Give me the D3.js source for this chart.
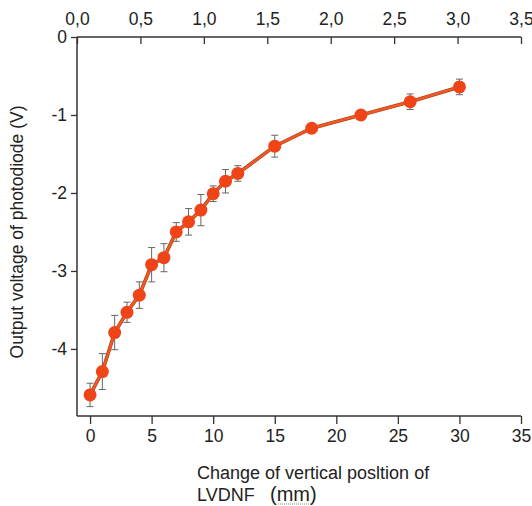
<!DOCTYPE html>
<html>
<head>
<meta charset="utf-8">
<title>LVDNF photodiode</title>
<script src="https://cdnjs.cloudflare.com/ajax/libs/d3/7.8.5/d3.min.js"></script>
<style>
  body { margin: 0; background: #fff; }
  svg text { font-family: "Liberation Sans", Arial, sans-serif; fill: #222; }
</style>
</head>
<body>
<div id="chart"></div>
<script>
// position change (mm) and photodiode output (V)
var shift = [0, 1, 2, 3, 4, 5, 6, 7, 8, 9, 10, 11, 12, 15, 18, 22, 26, 30];
var volts = [-4.59, -4.29, -3.79, -3.53, -3.31, -2.92, -2.83, -2.50, -2.37, -2.22,
             -2.01, -1.85, -1.75, -1.40, -1.17, -1.00, -0.83, -0.64];
var errs  = [0.15, 0.23, 0.22, 0.13, 0.17, 0.22, 0.18, 0.12, 0.17, 0.20,
             0.10, 0.15, 0.10, 0.14, 0.06, 0.05, 0.10, 0.10];

var bottomTicks = [0, 5, 10, 15, 20, 25, 30, 35];
var topTicks = [0, 0.5, 1.0, 1.5, 2.0, 2.5, 3.0, 3.5];
var leftTicks = [0, -1, -2, -3, -4];

var w = 532, h = 506;
var padL = 77, padR = 521, padT = 37, padB = 416;

var svg = d3.select("#chart").append("svg")
  .attr("width", w).attr("height", h);

var x = d3.scaleLinear().domain([-1.06, 35]).range([padL, padR]);
var xTop = d3.scaleLinear().domain([0, 3.5]).range([padL, padR]);
var y = d3.scaleLinear().domain([-4.86, 0]).range([padB, padT]);

var comma = function(d) { return d.toFixed(1).replace(".", ","); };
var plain = function(d) { return String(d); };  // keeps the ascii hyphen

// bottom axis
var gx = svg.append("g").attr("transform", "translate(0," + padB + ")");
gx.call(d3.axisBottom(x).tickValues(d3.range(0, 35.1, 2.5)).tickSize(4).tickFormat(""));
gx.call(d3.axisBottom(x).tickValues(bottomTicks).tickSize(8).tickPadding(6).tickFormat(plain));

// top axis, ticks point inward
var gt = svg.append("g").attr("transform", "translate(0," + padT + ")");
gt.call(d3.axisBottom(xTop).tickValues(d3.range(0, 3.51, 0.25)).tickSize(4).tickFormat(""));
gt.call(d3.axisBottom(xTop).tickValues(topTicks).tickSize(7).tickFormat(""));
gt.selectAll(".tick").filter(function(d) { return topTicks.indexOf(d) >= 0; })
  .append("text").attr("y", -12).attr("text-anchor", "middle")
  .text(function(d) { return comma(d); });

// left axis
var gy = svg.append("g").attr("transform", "translate(" + padL + ",0)");
gy.call(d3.axisLeft(y).tickValues(d3.range(-4.5, 0.01, 0.5)).tickSize(3).tickFormat(""));
gy.call(d3.axisLeft(y).tickValues(leftTicks).tickSize(6).tickPadding(4).tickFormat(plain));

svg.selectAll(".domain").attr("stroke", "#333").attr("stroke-width", 1.5);
svg.selectAll(".tick line").attr("stroke", "#333").attr("stroke-width", 1.3);
svg.selectAll(".tick text").style("font-size", "17.5px").attr("fill", "#222");
gx.selectAll(".domain").attr("d", "M" + padL + ",0H" + padR);
gt.selectAll(".domain").attr("d", "M" + padL + ",0H" + padR);
gy.selectAll(".domain").attr("d", "M0," + padT + "V" + padB);

var pts = shift.map(function(s, i) { return { s: s, v: volts[i], e: errs[i] }; });

// error bars
var eb = svg.append("g").attr("stroke", "#666").attr("stroke-width", 1);
pts.forEach(function(p) {
  var cx = x(p.s);
  eb.append("line").attr("x1", cx).attr("x2", cx).attr("y1", y(p.v - p.e)).attr("y2", y(p.v + p.e));
  eb.append("line").attr("x1", cx - 3.5).attr("x2", cx + 3.5).attr("y1", y(p.v - p.e)).attr("y2", y(p.v - p.e));
  eb.append("line").attr("x1", cx - 3.5).attr("x2", cx + 3.5).attr("y1", y(p.v + p.e)).attr("y2", y(p.v + p.e));
});

// curve
var line = d3.line().x(function(d) { return x(d.s); }).y(function(d) { return y(d.v); });
svg.append("path").datum(pts).attr("d", line)
  .attr("fill", "none").attr("stroke", "#a83a1a").attr("stroke-width", 3.6);
svg.append("path").datum(pts).attr("d", line)
  .attr("fill", "none").attr("stroke", "#f05a22").attr("stroke-width", 2.4);

svg.append("g").selectAll("circle").data(pts).enter().append("circle")
  .attr("cx", function(d) { return x(d.s); })
  .attr("cy", function(d) { return y(d.v); })
  .attr("r", 6.5)
  .attr("fill", "#ee4418");

// titles
svg.append("text")
  .attr("transform", "translate(23,232) rotate(-90)")
  .attr("text-anchor", "middle")
  .style("font-size", "17.5px")
  .text("Output voltage of photodiode (V)");

svg.append("text").attr("x", 197).attr("y", 479)
  .style("font-size", "18px")
  .text("Change of vertical posltion of");
svg.append("text").attr("x", 197).attr("y", 501)
  .style("font-size", "18px")
  .text("LVDNF");
svg.append("text").attr("x", 270).attr("y", 501)
  .style("font-size", "20px")
  .text("(mm)");
svg.append("line").attr("x1", 278).attr("x2", 312).attr("y1", 504).attr("y2", 504)
  .attr("stroke", "#6a9a6a").attr("stroke-width", 1).attr("stroke-dasharray", "1,1");
</script>
</body>
</html>
